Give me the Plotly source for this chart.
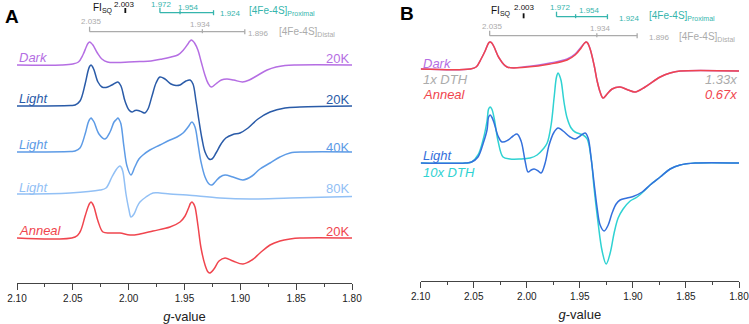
import plotly.graph_objects as go

# ---------------- data: (g-value, intensity relative to baseline) ----------------
dark_a = [(2.100,0),(2.060,0),(2.050,1),(2.045,3),(2.041,10),(2.038,18),(2.0365,21.5),(2.035,23),(2.0335,21.8),
          (2.032,20),(2.028,12),
          (2.024,6),(2.019,3),(2.010,2.5),(2.000,3),(1.990,3.5),(1.980,4),(1.970,6),(1.962,8),(1.956,10),
          (1.951,15),(1.947,21),(1.9455,23.5),(1.944,25),(1.9425,24),(1.941,22),(1.938,15),(1.935,3),(1.932,-9),
          (1.929,-18),(1.926,-22),
          (1.922,-19),(1.917,-15),(1.912,-14),(1.906,-15),(1.898,-17),(1.892,-15),(1.884,-10),(1.876,-5),
          (1.868,-2),(1.860,-0.5),(1.850,0),(1.800,0)]
light20_a = [(2.100,0),(2.052,0.5),(2.048,1),(2.0436,5),(2.039,22),(2.0364,35),(2.035,39.5),(2.0337,41),
             (2.0325,39.5),(2.031,36),(2.0275,24),
             (2.0239,19),(2.0203,18.5),(2.015,21),(2.0096,24),(2.0069,20),(2.0033,5),(1.9997,-4),(1.997,-6),
             (1.9943,-4.5),(1.9916,-4.5),(1.9881,-6),(1.9854,-7),(1.9827,-3),(1.9791,10),(1.9755,23),(1.972,29),
             (1.9675,27),(1.9621,22),(1.9576,20.5),(1.954,21),(1.9487,25),(1.945,26),(1.9424,22),(1.9397,5),
             (1.937,-15),(1.9343,-33),(1.9316,-46),(1.928,-53),(1.9254,-53),(1.9218,-47),(1.9173,-38),(1.913,-32),
             (1.9066,-28.5),(1.9003,-27),(1.8931,-22),(1.8842,-13),(1.8734,-6),(1.86,-2),(1.8466,-1),(1.80,0)]
light40_a = [(2.100,0),(2.052,0.5),(2.048,1),(2.0436,4),(2.039,18),(2.0364,29),(2.035,32.5),(2.0337,34),
             (2.0325,32.5),(2.031,30),(2.0266,18),
             (2.0212,13),(2.0167,20),(2.0131,30),(2.011,32.5),(2.0096,34),(2.0083,32),(2.0069,28),(2.0042,5),
             (2.0015,-14),(1.998,-23),
             (1.9945,-15),(1.9908,-7),(1.9872,-3),(1.981,2),(1.972,7),(1.963,12),(1.9567,15),(1.9513,19),
             (1.9468,25),(1.9433,30),(1.9406,25),(1.9379,8),(1.9352,-10),(1.9316,-25),(1.928,-32),(1.9254,-33),
             (1.9218,-29),(1.9182,-25),(1.9137,-23),(1.9066,-25),(1.8976,-28),(1.8895,-24),(1.8824,-17),
             (1.8734,-11),(1.8645,-5),(1.8555,-1),(1.842,0),(1.80,0)]
light80_a = [(2.100,0),(2.0525,1),(2.0257,4),(2.0203,6),(2.015,17),(2.0114,24),(2.0092,27),(2.0078,28),
             (2.0065,26.5),(2.0051,22),(2.0024,0),
             (1.9997,-16),(1.998,-23),(1.9952,-20),(1.9925,-13),(1.9899,-8),(1.9845,-3),(1.9782,1),(1.972,1),
             (1.963,0),(1.9478,-1),(1.9182,-4),(1.8913,-5),(1.8555,-4),(1.80,-2.5)]
anneal_a = [(2.100,0),(2.048,1),(2.0436,6),(2.039,22),(2.0364,31),(2.035,34.5),(2.0337,36),(2.0325,34.5),
            (2.031,31),(2.0275,17),(2.023,6),
            (2.0167,5),(2.0078,5),(1.9988,3),(1.9899,4),(1.9782,7),(1.963,11),(1.954,16),(1.9495,22),(1.946,31),
            (1.9447,34.5),(1.9433,36),(1.942,34.5),(1.9406,31),(1.9379,12),(1.9352,-10),(1.9316,-27),
            (1.9289,-34),(1.9272,-35),(1.9236,-31),
            (1.9191,-23),(1.9137,-20),(1.9066,-23),(1.8976,-26),(1.8896,-22),(1.8824,-15),(1.8734,-7),
            (1.8645,-3),(1.8555,-1),(1.8466,0),(1.80,0)]

dark_b = [(2.100,0),(2.0535,0),(2.0478,2),(2.0431,10),(2.0393,18),(2.036,26),(2.0346,27),(2.033,26),(2.0308,22),
          (2.0261,11),(2.0186,2),
          (1.9997,2.5),(1.978,6),(1.962,10),(1.9545,15),(1.9488,22),(1.9455,26),(1.9441,27),(1.9427,26),
          (1.9403,20),(1.9366,4),(1.9337,-12),
          (1.9309,-23),(1.9281,-29),(1.9243,-25),(1.9196,-20),(1.9121,-18),(1.9045,-21),(1.8979,-23),(1.8885,-18),
          (1.8743,-8),(1.8649,-4),(1.8555,-2),(1.80,-2)]
anneal_b = [(2.100,0),(2.0535,0),(2.0478,2),(2.0431,10),(2.0393,18),(2.036,26),(2.0346,27),(2.033,26),(2.0308,22),
            (2.0261,11),(2.0186,2),
            (1.9997,2),(1.978,5),(1.962,9),(1.9545,14),(1.9488,21),(1.9455,26),(1.9441,27),(1.9427,26),
            (1.9403,20),(1.9366,4),(1.9337,-12),
            (1.9309,-23),(1.9281,-29),(1.9243,-25),(1.9196,-20),(1.9121,-18),(1.9045,-21),(1.8979,-23),(1.8885,-18),
            (1.8743,-8),(1.8649,-4),(1.8555,-2),(1.80,-2)]
light_b = [(2.100,0),(2.058,0),(2.052,1),(2.046,6),(2.041,20),(2.0375,33),(2.036,46),(2.0346,48),(2.033,46),
           (2.0308,40),(2.0271,27),
           (2.0233,21),(2.0176,23),(2.0129,27),(2.0092,29),(2.0054,22),(2.0016,2),(1.9988,-9),(1.9959,-7),
           (1.9931,-6),(1.9893,-8),(1.9865,-10),(1.9827,0),(1.979,18),(1.9742,31),(1.9705,35),(1.9658,32),
           (1.9592,26),(1.9545,24),(1.9497,27),(1.945,30),(1.9422,25),(1.9394,5),(1.9366,-20),(1.9337,-45),
           (1.9309,-62),(1.9271,-68),(1.9233,-62),(1.9196,-50),(1.9158,-41),(1.9121,-37),(1.9055,-35),
           (1.8998,-33.5),(1.8913,-29),(1.8838,-22),(1.8743,-14),(1.8649,-6),(1.8555,-2),(1.8413,0),(1.80,0)]
dth10_b = [(2.100,0),(2.058,0),(2.052,1),(2.046,8),(2.041,24),(2.0375,42),(2.036,54),(2.0346,56),(2.033,54),
           (2.0308,45),(2.0271,22),
           (2.0224,6),(2.0158,4),(2.0063,4),(1.9969,5),(1.9903,8),(1.9846,14),(1.9808,20),(1.9771,38),(1.9742,66),
           (1.972,86),(1.9705,90),(1.969,87),(1.9676,82),(1.9648,60),(1.962,45),(1.9582,35),(1.9545,31),
           (1.9497,29),(1.9469,28),
           (1.9431,24),(1.9394,5),(1.9366,-25),(1.9328,-60),(1.929,-88),(1.9252,-101),(1.9214,-90),(1.9177,-70),
           (1.9139,-55),(1.9092,-46),(1.9026,-38),(1.896,-34),(1.8885,-27),(1.8838,-22),(1.8743,-14),
           (1.8649,-6),(1.8555,-2),(1.8413,0),(1.80,0)]

fi_g = [2.003]
prox_g = [1.972, 1.954, 1.924]
distal_g = [2.035, 1.934, 1.896]
tick_vals = [2.10, 2.05, 2.00, 1.95, 1.90, 1.85, 1.80]
tick_text = ["2.10", "2.05", "2.00", "1.95", "1.90", "1.85", "1.80"]

# ---------------- styling ----------------
FONT = "Liberation Sans, Arial, sans-serif"
W, H = 749, 324
C_DARK = "#b56ee3"
C_L20 = "#2a5ba8"
C_L40 = "#5d9be6"
C_L80 = "#92c0f5"
C_ANN = "#f0454e"
C_LB = "#3470dc"
C_CY = "#2fd2d2"
C_TEAL = "#35b5ad"
C_GRAY = "#ababab"

fig = go.Figure()

def spectrum(pairs, offset, color, xa, ya, width=1.5):
    g = [p[0] for p in pairs]
    y = [offset + p[1] for p in pairs]
    fig.add_trace(go.Scatter(x=g, y=y, mode="lines", xaxis=xa, yaxis=ya,
                             line=dict(color=color, width=width, shape="spline", smoothing=1.0),
                             hoverinfo="skip", showlegend=False))

# panel A (offsets = baseline height above axis)
spectrum(dark_a, 218, C_DARK, "x", "y")
spectrum(light20_a, 177, C_L20, "x", "y")
spectrum(light40_a, 131, C_L40, "x", "y")
spectrum(light80_a, 89, C_L80, "x", "y")
spectrum(anneal_a, 45, C_ANN, "x", "y")
# panel B
spectrum(dark_b, 212, C_DARK, "x2", "y2")
spectrum(anneal_b, 212, C_ANN, "x2", "y2")
spectrum(dth10_b, 118, C_CY, "x2", "y2")
spectrum(light_b, 118, C_LB, "x2", "y2")

def stick(gs, level, color, xa, ya, width=1.3):
    xs, ys = [], []
    if len(gs) > 1:
        xs += [max(gs), min(gs), None]
        ys += [level, level, None]
        ends = [(max(gs), 0, 5), (min(gs), -2.5, 2.5)]
        mids = [(gv, -1.5, 2.5) for gv in gs[1:-1]]
        for gv, lo, hi in ends + mids:
            xs += [gv, gv, None]
            ys += [level + lo, level + hi, None]
    else:
        for gv in gs:
            xs += [gv, gv, None]
            ys += [level, level + 5, None]
    fig.add_trace(go.Scatter(x=xs, y=ys, mode="lines", xaxis=xa, yaxis=ya,
                             line=dict(color=color, width=width), hoverinfo="skip", showlegend=False))

stick(fi_g, 270, "#111111", "x", "y", width=1.8)
stick(prox_g, 270.3, C_TEAL, "x", "y")
stick(distal_g, 251.3, C_GRAY, "x", "y")
stick(fi_g, 262.7, "#111111", "x2", "y2", width=1.8)
stick(prox_g, 264.3, C_TEAL, "x2", "y2")
stick(distal_g, 245.3, C_GRAY, "x2", "y2")

anns = []
def ann(text, xpx, h, yref, color, size, xanchor="left", italic=False, bold=False):
    t = text
    if italic:
        t = "<i>" + t + "</i>"
    if bold:
        t = "<b>" + t + "</b>"
    anns.append(dict(text=t, x=xpx / W, xref="paper", y=h, yref=yref, xanchor=xanchor,
                     yanchor="middle", showarrow=False,
                     font=dict(family=FONT, size=size, color=color)))

# panel letters
ann("A", 3, 267, "y", "#000000", 19, bold=True)
ann("B", 398, 268, "y2", "#000000", 19, bold=True)

# panel A spectra labels
ann("Dark", 17, 226, "y", C_DARK, 13, italic=True)
ann("20K", 351, 225, "y", C_DARK, 13, xanchor="right")
ann("Light", 17, 185, "y", C_L20, 13, italic=True)
ann("20K", 351, 184, "y", C_L20, 13, xanchor="right")
ann("Light", 17, 139, "y", C_L40, 13, italic=True)
ann("40K", 351, 136, "y", C_L40, 13, xanchor="right")
ann("Light", 17, 96, "y", C_L80, 13, italic=True)
ann("80K", 351, 95, "y", C_L80, 13, xanchor="right")
ann("Anneal", 17, 53, "y", C_ANN, 13, italic=True)
ann("20K", 351, 52, "y", C_ANN, 13, xanchor="right")

# panel B spectra labels
ann("Dark", 421, 218, "y2", C_DARK, 13, italic=True)
ann("1x DTH", 421, 202, "y2", C_GRAY, 13, italic=True)
ann("Anneal", 421, 187, "y2", C_ANN, 13, italic=True)
ann("1.33x", 739, 202, "y2", C_GRAY, 13, xanchor="right", italic=True)
ann("0.67x", 739, 187, "y2", C_ANN, 13, xanchor="right", italic=True)
ann("Light", 421, 126, "y2", C_LB, 13, italic=True)
ann("10x DTH", 421, 109, "y2", C_CY, 13, italic=True)

# header panel A
ann("FI<sub>SQ</sub>", 91, 275, "y", "#111111", 10)
ann("2.003", 124.5, 279, "y", "#111111", 8, xanchor="center")
ann("1.972", 161, 279, "y", C_TEAL, 8, xanchor="center")
ann("1.954", 188, 275.7, "y", C_TEAL, 8, xanchor="center")
ann("1.924", 218, 269.7, "y", C_TEAL, 8)
ann("[4Fe-4S]<sub>Proximal</sub>", 247, 272.5, "y", C_TEAL, 10)
ann("2.035", 91.7, 261.3, "y", C_GRAY, 8, xanchor="center")
ann("1.934", 200, 259, "y", C_GRAY, 8, xanchor="center")
ann("1.896", 246, 249.7, "y", C_GRAY, 8)
ann("[4Fe-4S]<sub>Distal</sub>", 277, 251.5, "y", C_GRAY, 10)

# header panel B
ann("FI<sub>SQ</sub>", 489, 269.5, "y2", "#111111", 10)
ann("2.003", 524, 273.7, "y2", "#111111", 8, xanchor="center")
ann("1.972", 560, 273.7, "y2", C_TEAL, 8, xanchor="center")
ann("1.954", 589, 270.3, "y2", C_TEAL, 8, xanchor="center")
ann("1.924", 617, 262.7, "y2", C_TEAL, 8)
ann("[4Fe-4S]<sub>Proximal</sub>", 647, 265.5, "y2", C_TEAL, 10)
ann("2.035", 492, 255, "y2", C_GRAY, 8, xanchor="center")
ann("1.934", 600, 252.7, "y2", C_GRAY, 8, xanchor="center")
ann("1.896", 647, 243.7, "y2", C_GRAY, 8)
ann("[4Fe-4S]<sub>Distal</sub>", 677, 244, "y2", C_GRAY, 10)

xcommon = dict(range=[2.10, 1.80], tickvals=tick_vals, ticktext=tick_text, ticks="outside",
               ticklen=6, tickwidth=1, tickcolor="#444444", showline=True, linecolor="#444444",
               linewidth=1, showgrid=False, zeroline=False, automargin=False,
               ticklabeloverflow="allow",
               tickfont=dict(family=FONT, size=10, color="#222222"),
               minor=dict(ticks="outside", ticklen=3, tickcolor="#444444", dtick=0.025, tick0=1.80,
                          showgrid=False),
               title=dict(text="<i>g</i>-value", font=dict(family=FONT, size=13, color="#222222"),
                          standoff=8))

fig.update_layout(
    width=W, height=H, autosize=False,
    margin=dict(l=0, r=0, t=0, b=41),
    paper_bgcolor="white", plot_bgcolor="white",
    showlegend=False,
    xaxis=dict(domain=[17 / W, 352 / W], anchor="y", **xcommon),
    xaxis2=dict(domain=[420.7 / W, 739 / W], anchor="y2", **xcommon),
    yaxis=dict(domain=[0, 1], range=[0, 283], visible=False, fixedrange=True),
    yaxis2=dict(domain=[2 / 283, 1], range=[0, 281], visible=False, fixedrange=True),
    annotations=anns,
)

fig.write_html("out.html")
